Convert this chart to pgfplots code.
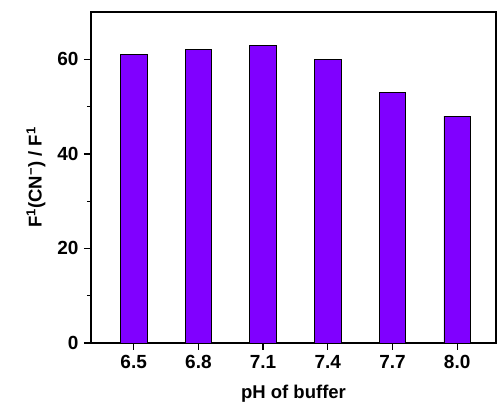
\documentclass[border=0pt]{standalone}
\usepackage{fontspec}
\setmainfont{Liberation Sans}
\usepackage{pgfplots}
\pgfplotsset{compat=1.18}
\definecolor{barviolet}{HTML}{8000FF}
\begin{document}
\begin{tikzpicture}[x=1pt,y=1pt]
\begin{axis}[
  scale only axis,
  width=405pt, height=331pt,
  xmin=-0.66, xmax=5.6,
  ymin=0, ymax=70,
  xtick={0,1,2,3,4,5},
  xticklabels={6.5,6.8,7.1,7.4,7.7,8.0},
  ytick={0,20,40,60},
  minor ytick={10,30,50},
  tick align=outside,
  major tick length=7pt,
  minor tick length=4pt,
  xtick pos=bottom, ytick pos=left,
  axis line style={line width=1.3pt},
  every tick/.style={black, line width=1.3pt},
  every minor tick/.style={black, line width=1.1pt},
  /pgf/number format/assume math mode=true,
  tick label style={font=\fontsize{19}{22}\selectfont\bfseries},
  label style={font=\fontsize{18.5}{22}\selectfont\bfseries},
  xticklabel style={yshift=-2pt},
  yticklabel style={xshift=-2pt},
  xlabel={pH of buffer},
  ylabel={F\textsuperscript{1}(CN\textsuperscript{−}) / F\textsuperscript{1}},
  xlabel style={yshift=-9pt},
  ylabel style={yshift=5pt},
]
\addplot[ybar, bar width=0.41, fill=barviolet, draw=black, line width=0.8pt]
  coordinates {(0,61) (1,62) (2,63) (3,60) (4,53) (5,48)};
\end{axis}
\path (current axis.south west) ++(-91pt,-62pt) rectangle ++(497pt,405pt);
\end{tikzpicture}
\end{document}
